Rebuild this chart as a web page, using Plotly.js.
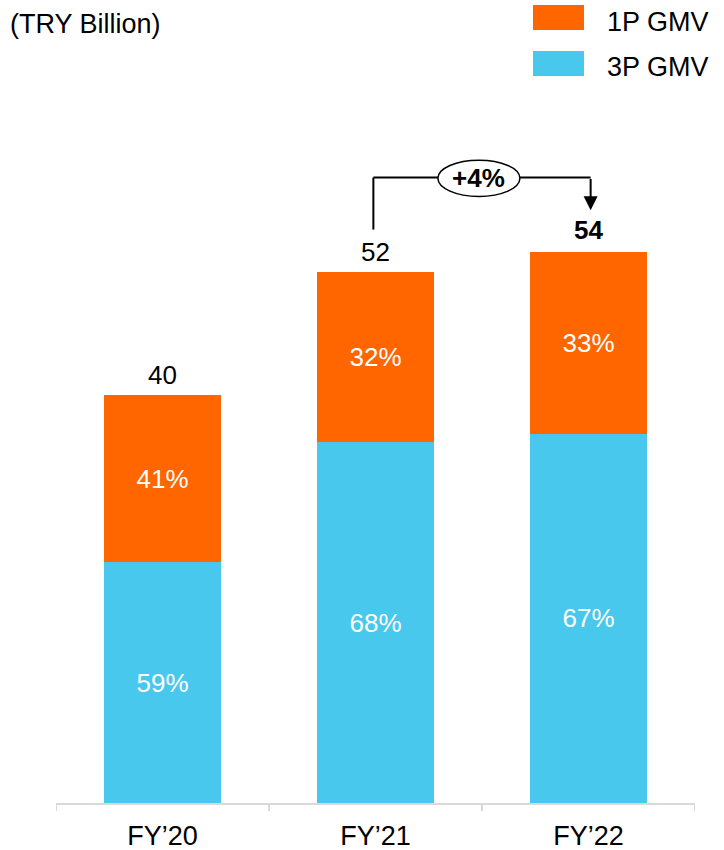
<!DOCTYPE html>
<html>
<head>
<meta charset="utf-8">
<script src="https://cdn.plot.ly/plotly-3.0.1.min.js"></script>
<style>html,body{margin:0;padding:0;background:#fff;}#chart{width:724px;height:850px;}</style>
</head>
<body>
<div id="chart"></div>
<script>
const categories = ["FY’20", "FY’21", "FY’22"];
const totals = [40, 52, 54];
const share1P = [41, 32, 33];
const share3P = [59, 68, 67];
const totalLabels = ["40", "52", "<b>54</b>"];
const growthLabel = "<b>+4%</b>";

const ORANGE = "#FF6600";
const BLUE = "#48C8EC";
const FONT = "Liberation Sans, Arial, sans-serif";
const FS = 26;

const val3P = totals.map((t, i) => t * share3P[i] / 100);
const val1P = totals.map((t, i) => t * share1P[i] / 100);

const idx = categories.map((c, i) => i);

const traces = [
  {
    type: "bar", name: "3P GMV", x: idx, y: val3P,
    marker: { color: BLUE },
    text: share3P.map(v => v + "%"), textposition: "inside", insidetextanchor: "middle",
    textfont: { color: "#ffffff", size: FS, family: FONT }, hoverinfo: "skip"
  },
  {
    type: "bar", name: "1P GMV", x: idx, y: val1P,
    marker: { color: ORANGE },
    text: share1P.map(v => v + "%"), textposition: "inside", insidetextanchor: "middle",
    textfont: { color: "#ffffff", size: FS, family: FONT }, hoverinfo: "skip"
  }
];

const annotations = totals.map((t, i) => ({
  x: i, y: t, xref: "x", yref: "y", text: totalLabels[i], showarrow: false,
  yanchor: "middle", yshift: i === 2 ? 22 : 20, font: { size: FS, color: "#000", family: FONT }
}));

// bracket geometry in data units
const bracketTop = totals[2] + 7.3;
const leftStart = totals[1] + 4.2;
const rightEnd = totals[2] + 4.1;

annotations.push({
  x: 2.01, y: rightEnd, ax: 2.01, ay: bracketTop, xref: "x", yref: "y", axref: "x", ayref: "y",
  text: "", showarrow: true, arrowhead: 2, arrowsize: 1.4, arrowwidth: 2, arrowcolor: "#000"
});

const shapes = [
  { type: "line", xref: "x", yref: "y", x0: 0.99, x1: 0.99, y0: leftStart, y1: bracketTop, line: { color: "#000", width: 2 } },
  { type: "line", xref: "x", yref: "y", x0: 0.99, x1: 2.01, y0: bracketTop, y1: bracketTop, line: { color: "#000", width: 2 } },
  { type: "circle", xref: "x", yref: "y", x0: 1.293, x1: 1.678, y0: bracketTop - 1.85, y1: bracketTop + 1.7,
    fillcolor: "#fff", line: { color: "#000", width: 1.5 } }
];
annotations.push({
  x: 1.4855, y: bracketTop - 0.05, xref: "x", yref: "y", text: growthLabel, showarrow: false,
  yanchor: "middle", font: { size: 26, color: "#000", family: FONT }
});

const layout = {
  width: 724, height: 850,
  margin: { l: 56, r: 29, t: 100, b: 47 },
  paper_bgcolor: "#fff", plot_bgcolor: "#fff",
  barmode: "stack", bargap: 0.45,
  showlegend: false,
  font: { family: FONT, size: FS, color: "#000" },
  xaxis: {
    type: "linear", range: [-0.5, 2.5], tickvals: idx, ticktext: categories,
    showgrid: false, zeroline: false, showline: true, linecolor: "#d9d9d9", linewidth: 2,
    ticks: "", ticklabelstandoff: 8, tickfont: { size: FS + 1, color: "#000", family: FONT }, fixedrange: true
  },
  yaxis: { range: [0, 68.9], visible: false, showgrid: false, zeroline: false, fixedrange: true },
  shapes: shapes,
  annotations: annotations
};

// tick marks at category boundaries, legend drawn in pixel-based paper coords
const W = 724 - 56 - 29, H = 850 - 100 - 47;
const px = x => (x - 56) / W;
const py = y => (850 - 47 - y) / H;
[-0.5, 0.5, 1.5, 2.5].forEach(b => {
  layout.shapes.push({ type: "line", xref: "x", yref: "paper", x0: b, x1: b, y0: 0, y1: py(811),
    line: { color: "#d9d9d9", width: 2 } });
});
layout.shapes.push({ type: "rect", xref: "paper", yref: "paper", x0: px(533), x1: px(584), y0: py(30), y1: py(5),
  fillcolor: ORANGE, line: { width: 0 } });
layout.shapes.push({ type: "rect", xref: "paper", yref: "paper", x0: px(533), x1: px(584), y0: py(76), y1: py(51),
  fillcolor: BLUE, line: { width: 0 } });
layout.annotations.push({ x: px(605), y: py(22), xref: "paper", yref: "paper", xanchor: "left", yanchor: "middle",
  text: "1P GMV", showarrow: false, font: { size: FS + 1, color: "#000", family: FONT } });
layout.annotations.push({ x: px(605), y: py(67), xref: "paper", yref: "paper", xanchor: "left", yanchor: "middle",
  text: "3P GMV", showarrow: false, font: { size: FS + 1, color: "#000", family: FONT } });
layout.annotations.push({ x: px(8), y: py(24), xref: "paper", yref: "paper", xanchor: "left", yanchor: "middle",
  text: "(TRY Billion)", showarrow: false, font: { size: FS + 1, color: "#000", family: FONT } });

Plotly.newPlot("chart", traces, layout, { displayModeBar: false, staticPlot: true });
</script>
</body>
</html>
